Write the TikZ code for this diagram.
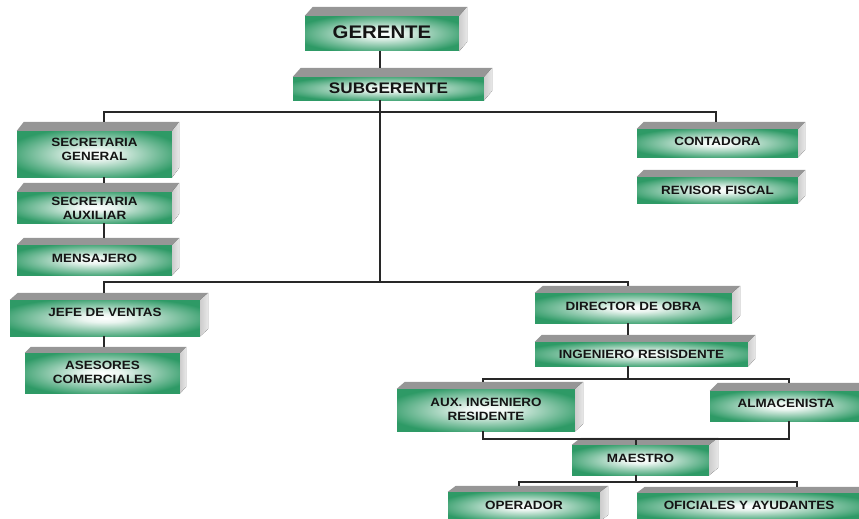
\documentclass[tikz,border=0pt]{standalone}
\usepackage{fontspec}
\newfontfamily\labfont[FakeStretch=1.12]{Liberation Sans}
\newfontfamily\bigfont[FakeStretch=1.12]{Liberation Sans}
\definecolor{boxgreen}{RGB}{46,154,102}
\definecolor{topgray}{RGB}{150,150,150}
\definecolor{sidegrayA}{RGB}{205,205,205}
\definecolor{sidegrayB}{RGB}{232,232,232}
\definecolor{linegray}{RGB}{40,40,40}
\definecolor{txt}{RGB}{20,20,20}
\pgfdeclareradialshading{boxshade}{\pgfpoint{0bp}{0bp}}{color(0bp)=(white); color(6bp)=(white!90!boxgreen); color(29bp)=(boxgreen); color(50bp)=(boxgreen)}
\tikzset{
  front/.style={shade, shading=boxshade, inner sep=0pt},
  labtxt/.style={inner sep=0pt, align=center, text=txt,
    font=\labfont\bfseries\fontsize{12}{14}\selectfont},
  bigtxt/.style={font=\bigfont\bfseries\fontsize{18.2}{20}\selectfont},
  midtxt/.style={font=\bigfont\bfseries\fontsize{15.3}{17}\selectfont},
  topface/.style={fill=topgray},
  sideface/.style={left color=sidegrayA, right color=sidegrayB},
  conn/.style={draw=linegray, line width=1.2pt}
}
% #1 name, #2 x1, #3 y1, #4 x2, #5 y2, #6 dx, #7 dy, #8 text style, #9 text
\newcommand{\orgbox}[9]{%
  \pgfmathsetmacro{\obcx}{(#2+#4)/2}%
  \pgfmathsetmacro{\obcy}{(#3+#5)/2}%
  \pgfmathsetmacro{\obw}{#4-#2}%
  \pgfmathsetmacro{\obh}{#5-#3}%
  \node[front, minimum width=\obw pt, minimum height=\obh pt] (#1) at (\obcx,\obcy) {};
  \fill[topface] (#1.north west) -- ++(#6,-#7) -- ([shift={(#6,-#7)}]#1.north east) -- (#1.north east) -- cycle;
  \fill[sideface] (#1.north east) -- ++(#6,-#7) -- ++(0,\obh) -- (#1.south east) -- cycle;
  \coordinate (#1-t) at ([yshift=#7 pt]#1.north);
  \node[labtxt, #8] (#1-txt) at (#1.center) {#9};
}
\begin{document}
\begin{tikzpicture}[x=1pt,y=-1pt]
\useasboundingbox (0,0) rectangle (859,519);
\clip (0,0) rectangle (859,519);
\orgbox{ger}{305}{16}{459}{51}{8}{9}{bigtxt, yshift=1pt}{GERENTE}
\orgbox{sub}{293}{77}{484}{100}{8}{9}{midtxt}{SUBGERENTE}
\orgbox{sg}{17}{131}{172}{177}{7}{9}{yshift=5pt}{SECRETARIA\\GENERAL}
\orgbox{sa}{17}{192}{172}{223}{7}{9}{yshift=-1pt}{SECRETARIA\\AUXILIAR}
\orgbox{mens}{17}{245}{172}{275}{7}{7}{yshift=1.5pt}{MENSAJERO}
\orgbox{cont}{637}{129}{798}{157}{7}{7}{yshift=1.5pt}{CONTADORA}
\orgbox{rev}{637}{177}{798}{203}{7}{7}{}{REVISOR FISCAL}
\orgbox{jefe}{10}{300}{200}{336}{8}{7}{yshift=6pt}{JEFE DE VENTAS}
\orgbox{ases}{25}{353}{180}{393}{6}{6}{yshift=1pt}{ASESORES\\COMERCIALES}
\orgbox{dir}{535}{293}{732}{323}{8}{7}{yshift=2pt}{DIRECTOR DE OBRA}
\orgbox{ing}{535}{342}{748}{366}{7}{7}{}{INGENIERO RESISDENTE}
\orgbox{aux}{397}{389}{575}{431}{8}{7}{yshift=1pt}{AUX. INGENIERO\\RESIDENTE}
\orgbox{alm}{710}{391}{862}{421}{8}{8}{yshift=3pt}{ALMACENISTA}
\orgbox{mae}{572}{445}{709}{475}{9}{7}{yshift=2pt}{MAESTRO}
\orgbox{op}{448}{492}{600}{521}{8}{6}{yshift=1pt}{OPERADOR}
\orgbox{of}{637}{493}{861}{520}{8}{6}{yshift=1pt}{OFICIALES Y AYUDANTES}
% junction coordinates
\coordinate (trunk) at (380,0);
\coordinate (xL) at (104,0);
\coordinate (xC) at (716,0);
\coordinate (xR) at (628,0);
\coordinate (xI) at (483,0);
\coordinate (xA) at (789,0);
\coordinate (xM) at (636,0);
\coordinate (xO) at (519,0);
\coordinate (xF) at (797,0);
\coordinate (h1) at (0,112);
\coordinate (h2) at (0,282);
\coordinate (h3) at (0,379);
\coordinate (h4) at (0,439);
\coordinate (h5) at (0,482);
% connectors
\draw[conn] (ger.south -| trunk) -- (sub-t -| trunk);
\draw[conn] (sub.south -| trunk) -- (h2 -| trunk);
\draw[conn] (sg-t -| xL) -- (h1 -| xL) -- (h1 -| xC) -- (cont-t -| xC);
\draw[conn] (sg.south -| xL) -- (sa-t -| xL);
\draw[conn] (sa.south -| xL) -- (mens-t -| xL);
\draw[conn] (jefe-t -| xL) -- (h2 -| xL) -- (h2 -| xR) -- (dir-t -| xR);
\draw[conn] (jefe.south -| xL) -- (ases-t -| xL);
\draw[conn] (dir.south -| xR) -- (ing-t -| xR);
\draw[conn] (ing.south -| xR) -- (h3 -| xR);
\draw[conn] (aux-t -| xI) -- (h3 -| xI) -- (h3 -| xA) -- (alm-t -| xA);
\draw[conn] (aux.south -| xI) -- (h4 -| xI) -- (h4 -| xA) -- (alm.south -| xA);
\draw[conn] (h4 -| xM) -- (mae.north -| xM);
\draw[conn] (mae.south -| xM) -- (h5 -| xM);
\draw[conn] (op-t -| xO) -- (h5 -| xO) -- (h5 -| xF) -- (of-t -| xF);
\end{tikzpicture}
\end{document}
